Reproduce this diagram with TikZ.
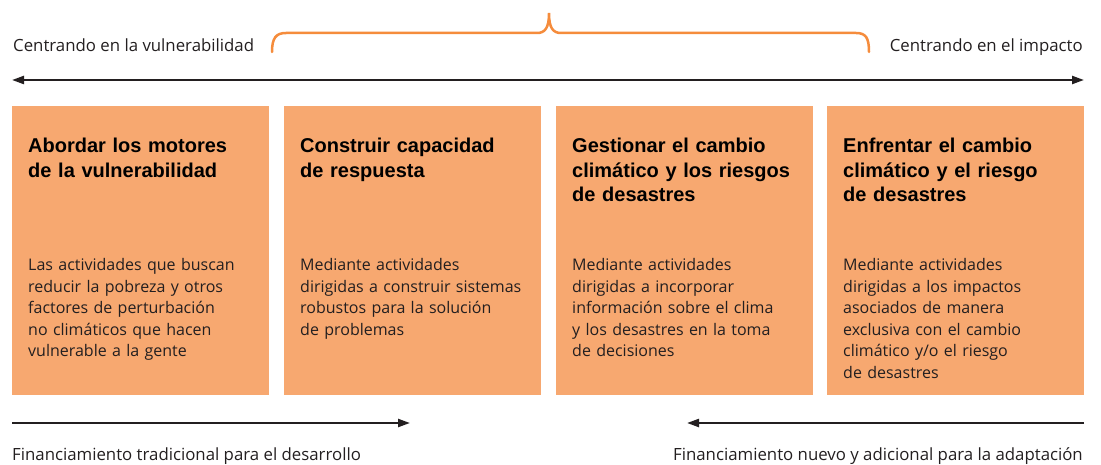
\documentclass[tikz,border=0pt]{standalone}
\usepackage{fontspec}
\setmainfont{Open Sans}
\newfontfamily\titlefont{Liberation Sans}[BoldFont={Liberation Sans Bold}]
\usetikzlibrary{arrows.meta}
\definecolor{boxfill}{RGB}{247,168,112}
\definecolor{braceorange}{RGB}{245,140,60}
\definecolor{ink}{RGB}{35,31,32}
\tikzset{
  stagebox/.style={rectangle, fill=boxfill, draw=none, minimum width=257pt, minimum height=289pt, inner sep=0pt, outer sep=0pt},
  stagetitle/.style={anchor=base west, inner sep=0pt, text width=245pt, align=left, text=black,
     font=\titlefont\bfseries\fontsize{20}{24.5}\selectfont},
  stagebody/.style={anchor=base west, inner sep=0pt, text width=245pt, align=left, text=ink,
     font=\fontsize{16}{21.5}\selectfont},
  axislabel/.style={inner sep=0pt, text=ink, font=\fontsize{16.8}{19}\selectfont},
  axisarrow/.style={draw=ink, line width=2.2pt, arrows={-Triangle[length=12pt,width=8pt]}},
  bracepath/.style={draw=braceorange, line width=2.5pt, line cap=round}
}
\begin{document}
\begin{tikzpicture}[x=1pt,y=-1pt]
\useasboundingbox (0,0) rectangle (1101,465);
% top axis
\coordinate (topL) at (12,80);
\coordinate (topR) at (1084,80);
\draw[axisarrow, arrows={Triangle[length=12pt,width=8pt]-Triangle[length=12pt,width=8pt]}] (topL) -- (topR);
\node[axislabel, anchor=base west] (lvul) at (13,52) {Centrando en la vulnerabilidad};
\node[axislabel, anchor=base east] (limp) at (1083,52) {Centrando en el impacto};
% brace
\coordinate (brL) at (272,52);
\coordinate (brTip) at (549,13);
\coordinate (brR) at (869,52);
\draw[bracepath] (brL) .. controls (272,38) and (276,33) .. (286,33)
  -- (537,33) .. controls (545,33) and (549,28) .. (brTip)
  .. controls (549,28) and (553,33) .. (561,33)
  -- (856,33) .. controls (866,33) and (869,38) .. (brR);
% boxes
\node[stagebox] (b1) at (140.5,250.5) {};
\node[stagebox] (b2) at (412.5,250.5) {};
\node[stagebox] (b3) at (684.5,250.5) {};
\node[stagebox] (b4) at (955.5,250.5) {};
\node[stagetitle] (t1) at ([shift={(16,47)}]b1.north west) {Abordar los motores\\de la vulnerabilidad};
\node[stagetitle] (t2) at ([shift={(16,47)}]b2.north west) {Construir capacidad\\de respuesta};
\node[stagetitle] (t3) at ([shift={(16,47)}]b3.north west) {Gestionar el cambio\\climático y los riesgos\\de desastres};
\node[stagetitle] (t4) at ([shift={(16,47)}]b4.north west) {Enfrentar el cambio\\climático y el riesgo\\de desastres};
\node[stagebody] (d1) at ([shift={(16,165)}]b1.north west) {Las actividades que buscan\\reducir la pobreza y otros\\factores de perturbación\\no climáticos que hacen\\vulnerable a la gente};
\node[stagebody] (d2) at ([shift={(16,165)}]b2.north west) {Mediante actividades\\dirigidas a construir sistemas\\robustos para la solución\\de problemas};
\node[stagebody] (d3) at ([shift={(16,165)}]b3.north west) {Mediante actividades\\dirigidas a incorporar\\información sobre el clima\\y los desastres en la toma\\de decisiones};
\node[stagebody] (d4) at ([shift={(16,165)}]b4.north west) {Mediante actividades\\dirigidas a los impactos\\asociados de manera\\exclusiva con el cambio\\climático y/o el riesgo\\de desastres};
% bottom arrows
\coordinate (fL0) at (12,423);
\coordinate (fL1) at (410,423);
\coordinate (fR0) at (1084,423);
\coordinate (fR1) at (687,423);
\draw[axisarrow] (fL0) -- (fL1);
\draw[axisarrow] (fR0) -- (fR1);
\node[axislabel, anchor=base west] (ftrad) at (12,460) {Financiamiento tradicional para el desarrollo};
\node[axislabel, anchor=base east] (fnuevo) at (1083,460) {Financiamiento nuevo y adicional para la adaptación};
\end{tikzpicture}
\end{document}
